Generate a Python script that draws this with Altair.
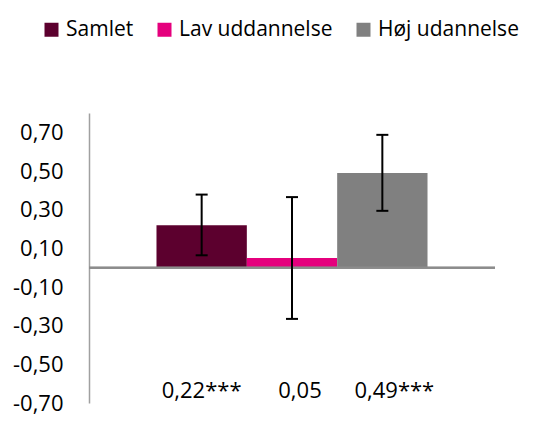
import altair as alt
import pandas as pd

groups = ["Samlet", "Lav uddannelse", "Høj udannelse"]
values = [0.22, 0.05, 0.49]
ci_low = [0.064, -0.265, 0.294]
ci_high = [0.378, 0.365, 0.687]
labels = ["0,22***", "0,05", "0,49***"]
colors = ["#5c002e", "#e5007d", "#808080"]
y_ticks = [-0.7, -0.5, -0.3, -0.1, 0.1, 0.3, 0.5, 0.7]

df = pd.DataFrame({"group": groups, "value": values, "lo": ci_low,
                   "hi": ci_high, "label": labels})

FONT = "Open Sans"

x = alt.X("group:N", sort=groups,
          scale=alt.Scale(paddingInner=0, paddingOuter=0.747), axis=None)
y_scale = alt.Scale(domain=[-0.7, 0.8], nice=False, zero=False)

base = alt.Chart(df)

bars = base.mark_bar().encode(
    x=x,
    y=alt.Y("value:Q", scale=y_scale, title=None,
            axis=alt.Axis(values=y_ticks, ticks=False, tickSize=0, grid=False,
                          domainColor="#a0a0a0", domainWidth=1.5,
                          labelFont=FONT, labelFontSize=22, labelColor="#000000",
                          labelPadding=26, labelBaseline="middle",
                          labelExpr="replace((datum.value < 0 ? '-' : '') + format(abs(datum.value), '.2f'), '.', ',')")),
    color=alt.Color("group:N", sort=groups,
                    scale=alt.Scale(domain=groups, range=colors),
                    legend=alt.Legend(title=None, orient="none", direction="horizontal",
                                      legendX=-48, legendY=-94,
                                      symbolType="square", symbolSize=196,
                                      symbolStrokeWidth=0, labelFont=FONT,
                                      labelFontSize=21, labelColor="#000000",
                                      labelOffset=4, columnPadding=20,
                                      labelLimit=400)),
)

zero = base.mark_rule(color="#8c8c8c", strokeWidth=2).encode(y=alt.datum(0, scale=y_scale))

err = base.mark_rule(color="#000000", strokeWidth=2).encode(
    x=x, y=alt.Y("lo:Q", scale=y_scale), y2="hi:Q")
cap_lo = base.mark_tick(color="#000000", size=12, thickness=2, opacity=1).encode(
    x=x, y=alt.Y("lo:Q", scale=y_scale))
cap_hi = base.mark_tick(color="#000000", size=12, thickness=2, opacity=1).encode(
    x=x, y=alt.Y("hi:Q", scale=y_scale))

text_dx = {"Samlet": 0, "Lav uddannelse": 8, "Høj udannelse": 12}
texts = []
for g in groups:
    texts.append(
        base.transform_filter(alt.datum.group == g)
        .mark_text(font=FONT, fontSize=22, color="#000000", align="center",
                   baseline="middle", dx=text_dx[g])
        .encode(x=x, y=alt.datum(-0.64, scale=y_scale), text="label:N")
    )

chart = alt.layer(bars, zero, err, cap_lo, cap_hi, *texts).properties(
    width=406, height=290,
    padding={"left": 81, "top": 105, "right": 36, "bottom": 13},
    autosize=alt.AutoSizeParams(type="none"),
    background="white",
).configure_view(stroke=None)

chart.save("out.html", embed_options={"renderer": "svg", "actions": False})
